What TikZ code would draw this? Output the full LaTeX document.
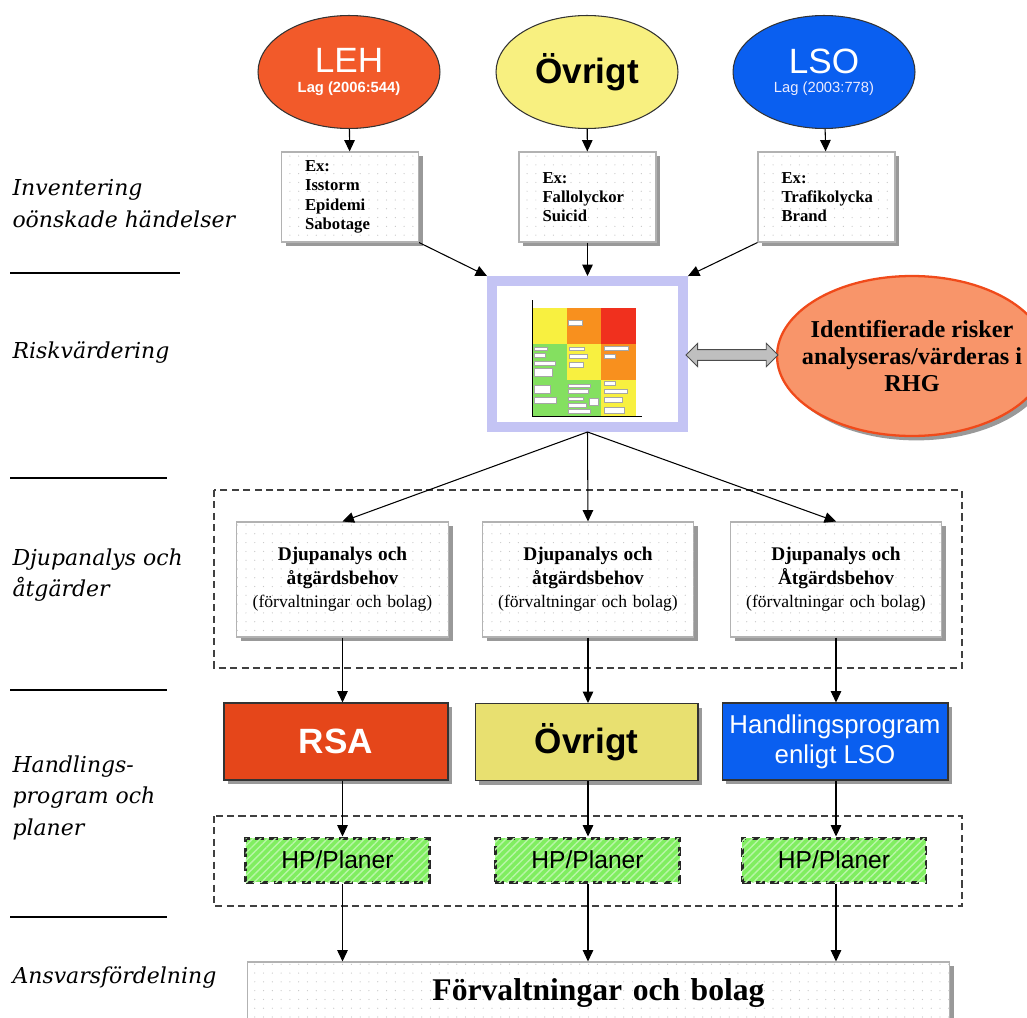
\documentclass[tikz,border=0pt]{standalone}
\usepackage{fontspec}
\setmainfont{Liberation Serif}
\setsansfont{Liberation Sans}
\newfontfamily\labelfont{DejaVu Serif}
\usetikzlibrary{shapes.geometric,shapes.arrows,arrows.meta,shadows,patterns.meta,calc}

\definecolor{lehred}{HTML}{F25A2A}
\definecolor{ovryellow}{HTML}{F8F080}
\definecolor{lsoblue}{HTML}{0A5FF0}
\definecolor{rsared}{HTML}{E5461A}
\definecolor{ovrbox}{HTML}{E8E070}
\definecolor{hpgreen}{HTML}{80EE60}
\definecolor{rhgfill}{HTML}{F8956A}
\definecolor{rhgdraw}{HTML}{F04A1A}
\definecolor{lavender}{HTML}{C4C4F4}
\definecolor{celly}{HTML}{F8F040}
\definecolor{cello}{HTML}{F8901E}
\definecolor{cellr}{HTML}{F0301E}
\definecolor{cellg}{HTML}{84E060}

\tikzset{
	shadowed/.style={drop shadow={shadow xshift=2.5pt,shadow yshift=-2.5pt,fill=black!40,opacity=1}},
	law/.style={ellipse, draw=black!80, minimum width=3.64cm, minimum height=2.26cm, font=\sffamily, align=center},
	exbox/.style={rectangle, draw=gray!60, fill=white, shadowed,
		postaction={pattern={Dots[distance=5pt,radius=.35pt]}, pattern color=gray!45},
		minimum width=2.74cm, minimum height=1.8cm, text width=1.8cm, align=left,
		font=\bfseries\fontsize{9.5}{11}\selectfont},
	djupbox/.style={exbox, minimum width=4.22cm, minimum height=2.3cm, text width=4cm, align=center,
		font=\fontsize{10}{13.3}\selectfont},
	progbox/.style={rectangle, draw=black!80, shadowed, minimum width=4.48cm, minimum height=1.54cm,
		font=\sffamily\bfseries\fontsize{20}{22}\selectfont, align=center},
	hpbox/.style={rectangle, draw=black!85, fill=hpgreen, line width=1.7pt, dash pattern=on 5pt off 3pt,
		postaction={pattern={Lines[angle=45,distance=3pt,line width=.8pt]}, pattern color=white!45!hpgreen},
		minimum width=3.68cm, minimum height=.88cm, font=\sffamily\fontsize{14}{16}\selectfont},
	group/.style={draw=black!75, line width=.85pt, dash pattern=on 4pt off 2.5pt},
	phase/.style={anchor=north west, inner sep=0pt, align=left,
		font=\labelfont\itshape\fontsize{12.5}{18}\selectfont},
}

\begin{document}
\begin{tikzpicture}[x=0.02cm, y=-0.02cm, >={Triangle[length=6.5pt,width=6pt]}, line width=.6pt]
	\useasboundingbox (0,0) rectangle (1027,1017);

	\node (phinv) [phase] at (12,179) {Inventering\\oönskade händelser};
	\node (phrisk) [phase] at (12,341) {Riskvärdering};
	\node (phdjup) [phase] at (12,548) {Djupanalys och\\åtgärder};
	\node (phprog) [phase] at (12,755) {Handlings-\\program och\\planer};
	\node (phansv) [phase] at (12,966) {Ansvarsfördelning};
	\foreach \y/\l in {273/180,478/167,690/167,917/167}
		\draw[line width=.7pt] (10,\y) -- (\l,\y);

	\draw[group] (214,490) rectangle (962,668);
	\draw[group] (214,816) rectangle (962,906);

	\node (leh) [law, fill=lehred, text=white] at (349,72)
		{{\fontsize{20}{21}\selectfont LEH}\\[-1pt]{\bfseries\fontsize{8.4}{10}\selectfont Lag (2006:544)}};
	\node (ovr) [law, fill=ovryellow] at (587,72) {\bfseries\fontsize{20}{22}\selectfont Övrigt};
	\node (lso) [law, fill=lsoblue, text=white] at (824,72)
		{{\fontsize{20}{21}\selectfont LSO}\\[-1pt]{\color{blue!8}\fontsize{8.4}{10}\selectfont Lag (2003:778)}};

	\node (exleh) [exbox] at (350,197) {Ex:\\Isstorm\\Epidemi\\Sabotage};
	\node (exovr) [exbox] at (587.5,197) {Ex:\\Fallolyckor\\Suicid};
	\node (exlso) [exbox] at (826.5,197) {Ex:\\Trafikolycka\\Brand};

	\node (riskmat) [rectangle, draw=lavender, line width=.2cm, fill=white, shadowed,
		minimum width=3.82cm, minimum height=2.92cm] at (587.5,354) {};
	\foreach \x/\y/\c in {532/308/celly,567/308/cello,601/308/cellr,
			532/344/cellg,567/344/celly,601/344/cello,
			532/380/cellg,567/380/cellg,601/380/celly}
		\fill[\c] (\x,\y) rectangle +(35,36);
	\foreach \a/\b/\c/\d in {568/320/582/325,534/347/547/350,534/353/545/357,534/361/555/365,
			534/368/552/376,569/347/584/350,569/354/587/358,569/362/583/367,604/346/628/350,
			604/354/615/358,534/385/550/393,534/397/556/403,568/384/590/387,568/389/588/393,
			568/397/583/400,589/398/598/405,568/403/586/407,568/409/590/413,604/381/615/385,
			604/389/627/393,604/397/622/402,604/407/624/413}
		\draw[fill=white, draw=gray!70, line width=.2pt] (\a,\b) rectangle (\c,\d);
	\draw[line width=.4pt] (532,416) -- (532,300);
	\draw[line width=.4pt] (532,416) -- (642,416);

	\node (rhg) [ellipse, draw=rhgdraw, line width=1.3pt, fill=rhgfill, shadowed,
		minimum width=5.4cm, minimum height=3.2cm] at (912,356) {};
	\node (rhgtext) [align=center, font=\bfseries\fontsize{13.8}{15.6}\selectfont] at (rhg)
		{Identifierade risker\\analyseras/värderas i\\RHG};
	\node (dbl) [double arrow, draw=black!70, line width=.5pt, fill=gray!50, inner sep=2.8pt,
		double arrow head extend=3.6pt, minimum height=1.84cm]
		at ($(riskmat.east)!.5!(rhg.west)$) {};

	\node (djup1) [djupbox] at (342.5,579.5)
		{{\bfseries\fontsize{11}{13.3}\selectfont Djupanalys och\\åtgärdsbehov}\\(förvaltningar och bolag)};
	\node (djup2) [djupbox] at (588,579.5)
		{{\bfseries\fontsize{11}{13.3}\selectfont Djupanalys och\\åtgärdsbehov}\\(förvaltningar och bolag)};
	\node (djup3) [djupbox] at (836,579.5)
		{{\bfseries\fontsize{11}{13.3}\selectfont Djupanalys och\\Åtgärdsbehov}\\(förvaltningar och bolag)};

	\node (rsa) [progbox, fill=rsared, text=white] at (336,741.5) {RSA};
	\node (ovrprog) [progbox, fill=ovrbox, minimum width=4.46cm] at (586.5,742) {Övrigt};
	\node (lsoprog) [progbox, fill=lsoblue, text=white, minimum width=4.52cm,
		font=\sffamily\fontsize{14.7}{17}\selectfont] at (835,741.5) {Handlingsprogram\\enligt LSO};

	\node (hp1) [hpbox] at (337.5,860) {HP/Planer};
	\node (hp2) [hpbox, minimum width=3.7cm] at (587.5,860) {HP/Planer};
	\node (hp3) [hpbox] at (834,860) {HP/Planer};

	\node (forv) [exbox, minimum width=14.06cm, minimum height=1.24cm, text width=13cm, align=center,
		font=\bfseries\fontsize{18}{20}\selectfont] at (598.5,993) {Förvaltningar och bolag};

	\draw[->] (leh) -- (exleh);
	\draw[->] (ovr) -- (exovr);
	\draw[->] (lso) -- (exlso);
	\draw[->] (exleh.south east) -- (riskmat.north west);
	\draw[->] (exovr) -- (riskmat);
	\draw[->] (exlso.south west) -- (riskmat.north east);
	\foreach \d in {djup1,djup2,djup3}
		\draw[->] (riskmat.south) -- (\d.north);
	\foreach \d/\p/\h in {djup1/rsa/hp1,djup2/ovrprog/hp2,djup3/lsoprog/hp3}{
		\draw[->] (\d.south) -- (\d.south |- \p.north);
		\draw[->] (\d.south |- \p.south) -- (\d.south |- \h.north);
		\draw[->] (\d.south |- \h.south) -- (\d.south |- forv.north);
	}
\end{tikzpicture}
\end{document}
